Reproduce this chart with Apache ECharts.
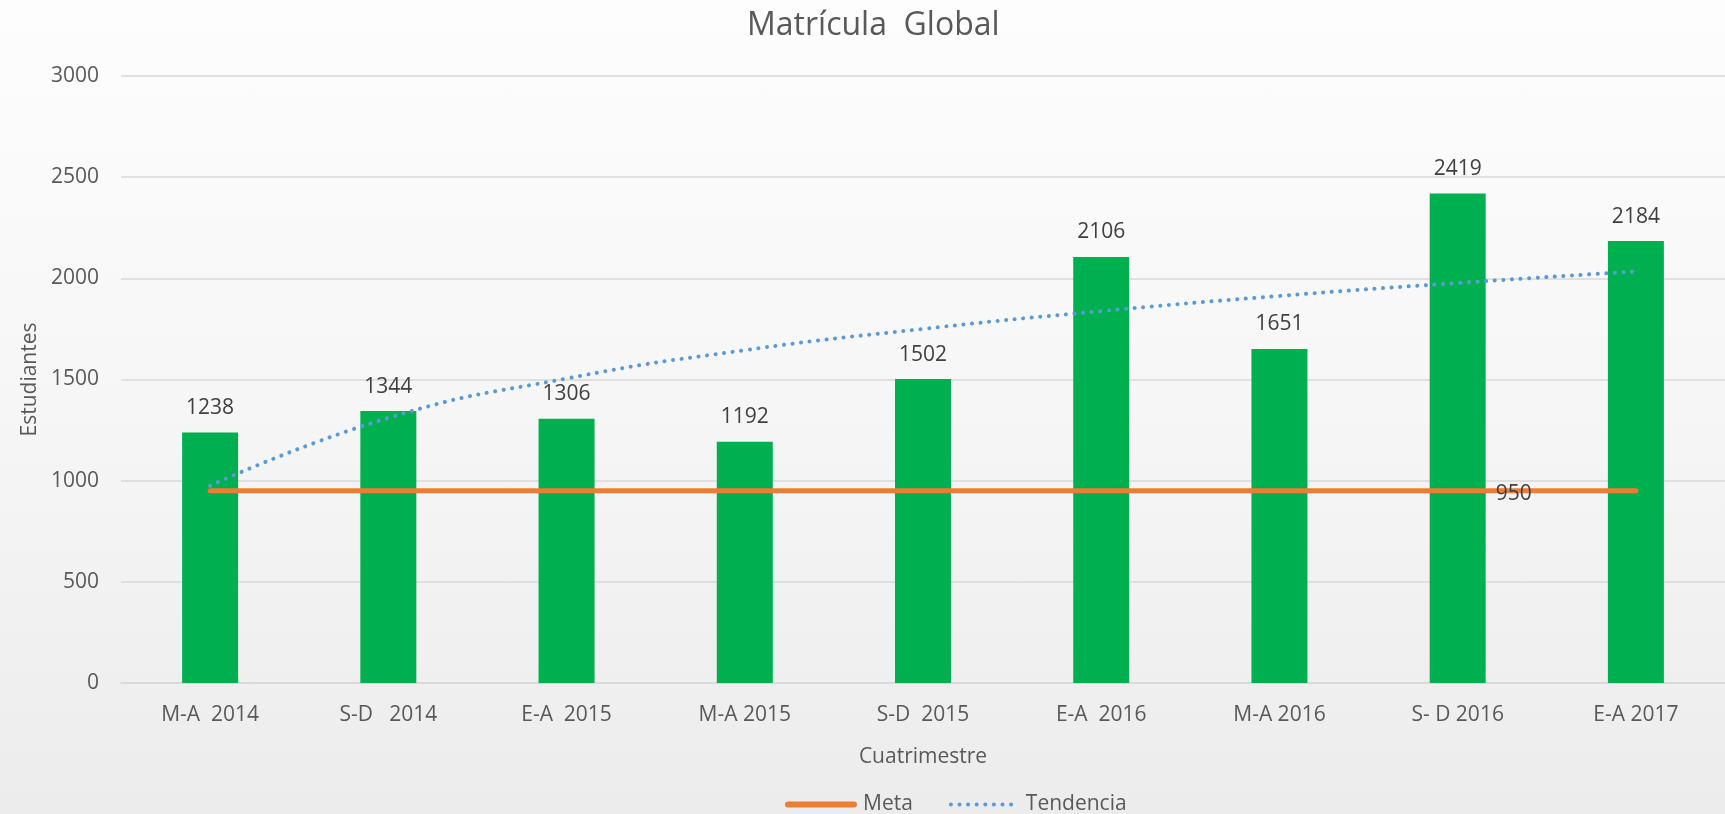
<!DOCTYPE html>
<html>
<head>
<meta charset="utf-8">
<script src="https://cdn.jsdelivr.net/npm/echarts@6/dist/echarts.min.js"></script>
<style>
html, body { margin: 0; padding: 0; }
body { background: linear-gradient(#fdfdfd 0%, #f7f7f7 45%, #ececec 100%); }
#main { width: 1725px; height: 814px; }
</style>
</head>
<body>
<div id="main"></div>
<script>
var categories = ['M-A  2014', 'S-D   2014', 'E-A  2015', 'M-A 2015', 'S-D  2015', 'E-A  2016', 'M-A 2016', 'S- D 2016', 'E-A 2017'];
var estudiantes = [1238, 1344, 1306, 1192, 1502, 2106, 1651, 2419, 2184];
var meta = [950, 950, 950, 950, 950, 950, 950, 950, 950];
var tendencia = [975, 1310, 1505, 1645, 1750, 1838, 1913, 1977, 2034];
var metaLabelIndex = 7;

var font = 'Open Sans';
var myChart = echarts.init(document.getElementById('main'));

var option = {
	backgroundColor: 'transparent',
	animation: false,
	title: {
		text: 'Matrícula  Global',
		left: 742,
		top: 5,
		textStyle: {
			color: '#595959',
			fontFamily: font,
			fontSize: 32,
			fontWeight: 'normal'
		}
	},
	legend: {
		left: 780,
		top: 789,
		itemWidth: 66,
		itemHeight: 10,
		itemGap: 36,
		itemStyle: { opacity: 0 },
		textStyle: {
			color: '#595959',
			fontFamily: font,
			fontSize: 21,
			padding: [0, 0, 0, 4]
		},
		data: [
			{ name: 'Meta', itemStyle: { opacity: 0 }, lineStyle: { width: 6, color: '#ed7d31', cap: 'round' } },
			{ name: 'Tendencia', itemStyle: { opacity: 0 }, lineStyle: { width: 4, color: '#5b9bd5', type: [0.1, 8.5], cap: 'round' } }
		]
	},
	grid: {
		left: 121,
		right: -16,
		top: 76,
		bottom: 131
	},
	xAxis: {
		type: 'category',
		data: categories,
		name: 'Cuatrimestre',
		nameLocation: 'middle',
		nameGap: 64,
		nameTextStyle: {
			color: '#595959',
			fontFamily: font,
			fontSize: 21
		},
		axisLine: { lineStyle: { color: '#d9d9d9', width: 1.5 } },
		axisTick: { show: false },
		axisLabel: {
			color: '#595959',
			fontFamily: font,
			fontSize: 21,
			margin: 22
		}
	},
	yAxis: {
		type: 'value',
		min: 0,
		max: 3000,
		interval: 500,
		name: 'Estudiantes',
		nameLocation: 'middle',
		nameGap: 80,
		nameTextStyle: {
			color: '#595959',
			fontFamily: font,
			fontSize: 21
		},
		axisLine: { show: false },
		axisTick: { show: false },
		axisLabel: {
			color: '#595959',
			fontFamily: font,
			fontSize: 21,
			margin: 22,
			formatter: function (v) {
				return String(v);
			}
		},
		splitLine: { lineStyle: { color: '#d9d9d9', width: 1.5 } }
	},
	series: [
		{
			name: 'Estudiantes',
			type: 'bar',
			barWidth: 56,
			data: estudiantes,
			itemStyle: { color: '#00b050' },
			label: {
				show: true,
				position: 'top',
				distance: 14,
				color: '#404040',
				fontFamily: font,
				fontSize: 21
			}
		},
		{
			name: 'Meta',
			type: 'line',
			data: meta,
			symbol: 'none',
			z: 3,
			lineStyle: { color: '#ed7d31', width: 5, cap: 'round' },
			itemStyle: { color: '#ed7d31' },
			markPoint: {
				symbol: 'circle',
				symbolSize: 0,
				data: [{ coord: [metaLabelIndex, meta[metaLabelIndex]], value: meta[metaLabelIndex] }],
				label: {
					show: true,
					position: 'inside',
					offset: [56, 3],
					color: '#404040',
					fontFamily: font,
					fontSize: 21,
					formatter: '{c}'
				}
			}
		},
		{
			name: 'Tendencia',
			type: 'line',
			data: tendencia,
			smooth: true,
			symbol: 'none',
			z: 4,
			lineStyle: { color: '#5b9bd5', width: 4, type: [0.1, 8.5], cap: 'round' },
			itemStyle: { color: '#5b9bd5' }
		}
	]
};

myChart.setOption(option);
</script>
</body>
</html>
